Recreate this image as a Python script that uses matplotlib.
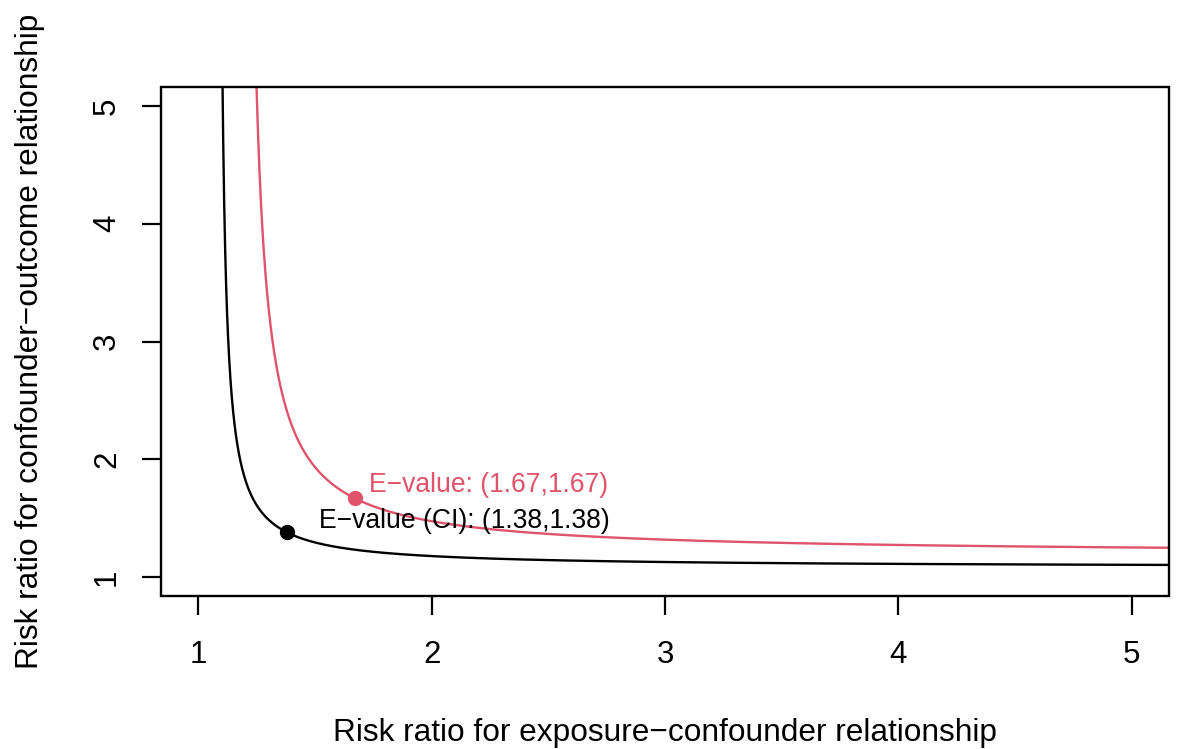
import numpy as np
import matplotlib
matplotlib.use("Agg")
import matplotlib.pyplot as plt
from matplotlib.patches import Rectangle

plt.rcParams['font.family'] = ['Liberation Sans', 'DejaVu Sans']

# Data: E-values (point estimate and CI)
evalue_point = 1.67
evalue_ci = 1.38
labels = ["E\u2212value: (1.67,1.67)", "E\u2212value (CI): (1.38,1.38)"]
colors = ["#DF536B", "#000000"]
xticks = [1, 2, 3, 4, 5]
yticks = [1, 2, 3, 4, 5]

def rr_from_evalue(e):
    return e * e / (2 * e - 1)

def curve(rr, x):
    return rr * (x - 1) / (x - rr)

fig = plt.figure(figsize=(11.79, 7.49), dpi=100)
ax = fig.add_axes([161/1179, 1 - 596/749, (1169 - 161)/1179, (596 - 87)/749])

lw = 1.7
for e, col in [(evalue_point, colors[0]), (evalue_ci, colors[1])]:
    rr = rr_from_evalue(e)
    x = np.linspace(rr + 1e-4, 5.3, 4000)
    y = curve(rr, x)
    ax.plot(x, y, color=col, lw=lw)
    ax.plot([e], [e], 'o', color=col, ms=10, zorder=5)

ax.text(1.732, 1.786, labels[0], color=colors[0], fontsize=19.1, ha='left', va='center')
ax.text(1.518, 1.474, labels[1], color=colors[1], fontsize=19.1, ha='left', va='center')

ax.set_xlim(0.84, 5.16)
ax.set_ylim(0.84, 5.16)
ax.set_xticks(xticks)
ax.set_yticks(yticks)
ax.set_xticklabels([str(t) for t in xticks], fontsize=22.5)
ax.set_yticklabels([str(t) for t in yticks], fontsize=22.5, rotation=90, va='center')
ax.tick_params(length=14, width=1.6)
ax.tick_params(axis='x', pad=18)
ax.tick_params(axis='y', pad=14)
for s in ax.spines.values():
    s.set_visible(False)
ax.add_patch(Rectangle((0, 0), 1, 1, transform=ax.transAxes, fill=False, lw=1.7,
                       color='black', clip_on=False, zorder=10))

fig.text(0.5*(161+1169)/1179, 1 - 733/749, "Risk ratio for exposure\u2212confounder relationship",
         ha='center', va='center', fontsize=22.8)
fig.text(30/1179, 1 - 341/749, "Risk ratio for confounder\u2212outcome relationship",
         ha='center', va='center', fontsize=22.8, rotation=90)

fig.savefig("out.png", dpi=100)
